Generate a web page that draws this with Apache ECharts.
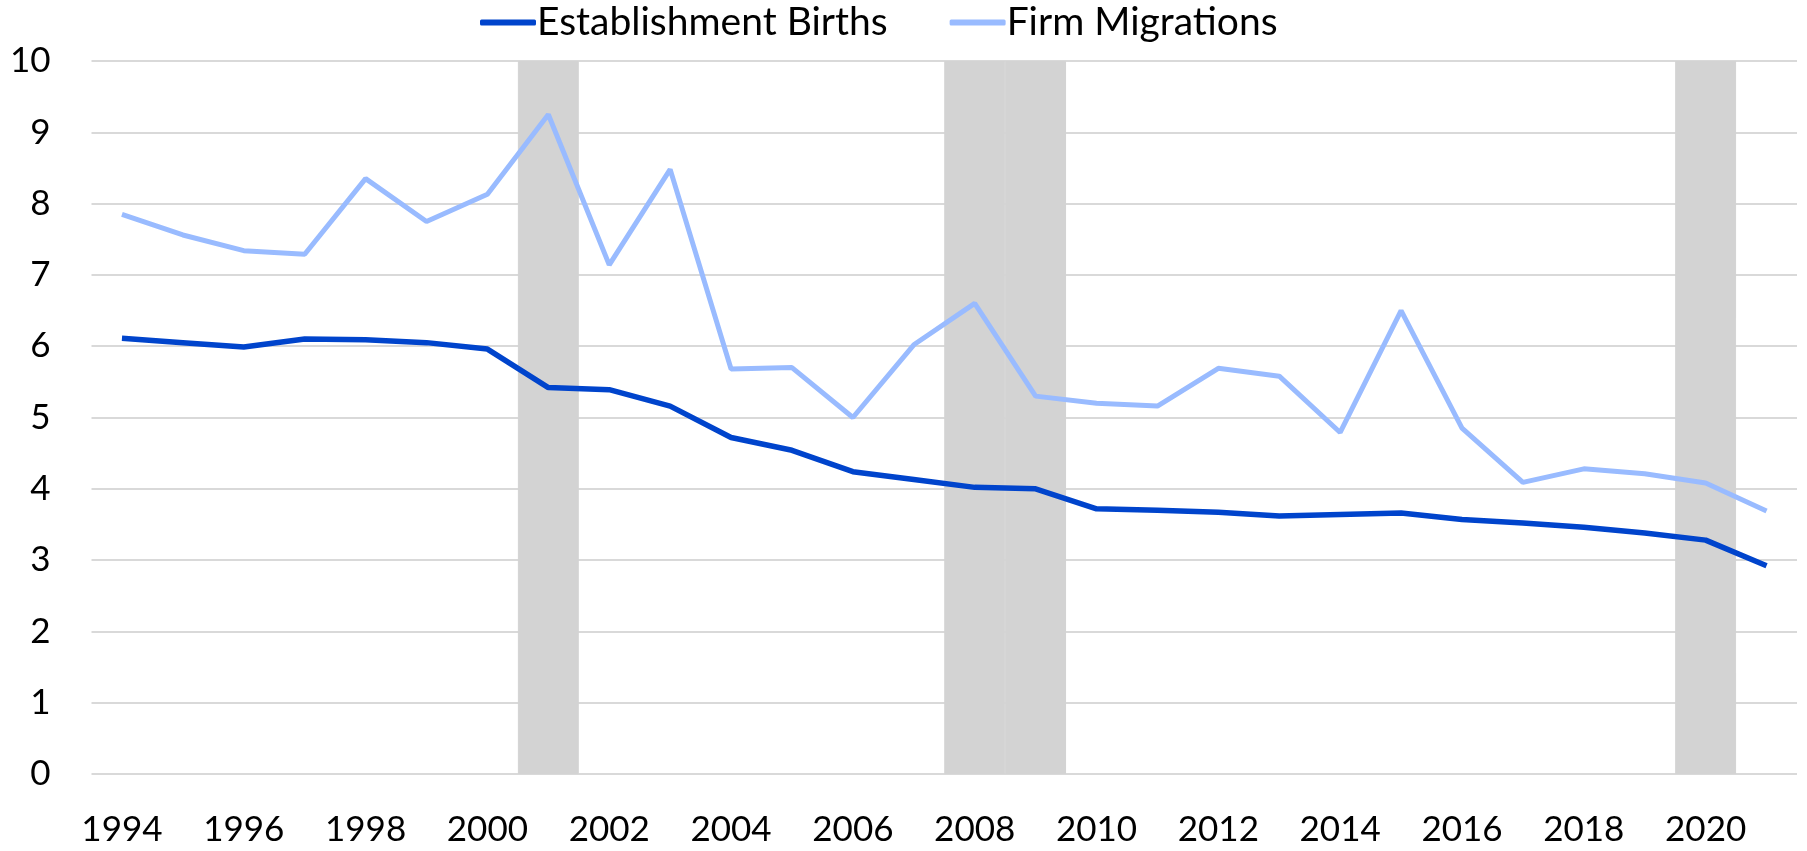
<!DOCTYPE html>
<html>
<head>
<meta charset="utf-8">
<script src="https://cdn.jsdelivr.net/npm/echarts@6/dist/echarts.min.js"></script>
<style>html,body{margin:0;padding:0;background:#fff}#c{width:1807px;height:851px}</style>
</head>
<body>
<div id="c"></div>
<script>
const years = ['1994','1995','1996','1997','1998','1999','2000','2001','2002','2003','2004','2005','2006','2007','2008','2009','2010','2011','2012','2013','2014','2015','2016','2017','2018','2019','2020','2021'];
const establishmentBirths = [6.11,6.05,5.99,6.10,6.09,6.05,5.96,5.42,5.39,5.16,4.72,4.54,4.24,4.13,4.02,4.00,3.72,3.70,3.67,3.62,3.64,3.66,3.57,3.52,3.46,3.38,3.28,2.92];
const firmMigrations = [7.85,7.56,7.34,7.29,8.35,7.75,8.13,9.25,7.14,8.48,5.68,5.70,5.00,6.02,6.60,5.30,5.20,5.16,5.69,5.58,4.79,6.50,4.85,4.09,4.28,4.21,4.08,3.69];
const recessionYears = ['2001','2008','2009','2020'];
const yTicks = [0,1,2,3,4,5,6,7,8,9,10];

const recession = years.map(y => recessionYears.includes(y) ? yTicks[yTicks.length-1] : null);
const FONT = 'Lato';
const chart = echarts.init(document.getElementById('c'));
chart.setOption({
  animation: false,
  textStyle: {fontFamily: FONT},
  legend: {
    data: ['Establishment Births','Firm Migrations'],
    left: 475, top: -2,
    itemWidth: 56, itemHeight: 6, itemGap: 62,
    icon: 'roundRect',
    textStyle: {fontFamily: FONT, fontSize: 39, color: '#000', padding: [0,0,0,-4]}
  },
  grid: {left: 91.5, right: 10, top: 61, bottom: 77, containLabel: false},
  xAxis: {
    type: 'category', data: years, boundaryGap: true,
    axisLine: {show: false}, axisTick: {show: false},
    axisLabel: {interval: 1, fontSize: 35, color: '#000', fontFamily: FONT, margin: 38}
  },
  yAxis: {
    type: 'value', min: yTicks[0], max: yTicks[yTicks.length-1], interval: 1,
    axisLine: {show: false}, axisTick: {show: false},
    axisLabel: {fontSize: 35, color: '#000', fontFamily: FONT, margin: 41},
    splitLine: {lineStyle: {color: '#d9d9d9', width: 2}}
  },
  series: [
    {name: 'Recession', type: 'bar', data: recession, barWidth: '100%', barGap: '-100%',
     itemStyle: {color: '#d3d3d3', borderColor: '#d3d3d3', borderWidth: 1}, silent: true, z: 1, legendHoverLink: false},
    {name: 'Establishment Births', type: 'line', data: establishmentBirths, symbol: 'none',
     lineStyle: {color: '#0044cc', width: 5.5}, itemStyle: {color: '#0044cc'}, z: 3},
    {name: 'Firm Migrations', type: 'line', data: firmMigrations, symbol: 'none',
     lineStyle: {color: '#99bbff', width: 5}, itemStyle: {color: '#99bbff'}, z: 3}
  ]
});
</script>
</body>
</html>
